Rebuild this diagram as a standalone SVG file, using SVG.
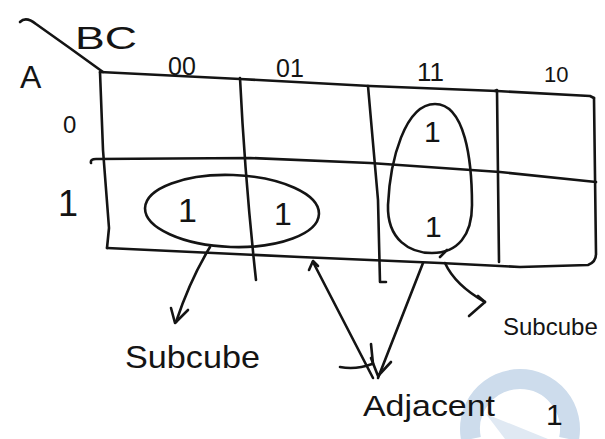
<svg xmlns="http://www.w3.org/2000/svg" width="605" height="439" viewBox="0 0 605 439">
<style>
.ln{fill:none;stroke:#141414;stroke-width:2.6;stroke-linecap:round;stroke-linejoin:round}
.hw{font-family:"Liberation Sans","DejaVu Sans",sans-serif;fill:#141414}
.wm{fill:none;stroke:#cddcec;stroke-width:20}
</style>
<rect width="605" height="439" fill="#ffffff"/>
<g id="watermark">
<path class="wm" d="M471,439 A50,50 0 1 1 569,439"/>
<path d="M486,414 L548,439 L505,439 Z" fill="#e0e9f3"/>
</g>
<g id="kmap-grid">
<path class="ln" d="M20,22 Q26,16 36,24 Q70,48 103,72"/>
<path class="ln" d="M100,72 L240,79 L370,86 L497,91 L590,96 L594,98"/>
<path class="ln" d="M100,72 L103,150 L109,228 L107,248"/>
<path class="ln" d="M107,248 L300,257 L440,263 L520,267 L588,265 Q596,262 596,254 L594,98"/>
<path class="ln" d="M91,163 Q90,159 96,159 L250,158 L370,163 L500,172 L596,182"/>
<path class="ln" d="M240,78 Q245,180 256,280"/>
<path class="ln" d="M368,86 L378,200 L380,282 L386,282"/>
<path class="ln" d="M495,91 L497,90 L499,262"/>
</g>
<g id="labels">
<text class="hw" x="75" y="49" font-size="32" textLength="62" lengthAdjust="spacingAndGlyphs">BC</text>
<text class="hw" x="20" y="88" font-size="32">A</text>
<text class="hw" x="168" y="75" font-size="25">00</text>
<text class="hw" x="276" y="77" font-size="25">01</text>
<text class="hw" x="417" y="81" font-size="26">11</text>
<text class="hw" x="544" y="82" font-size="22">10</text>
<text class="hw" x="63" y="133" font-size="24">0</text>
<text class="hw" x="58" y="216" font-size="36">1</text>
</g>
<g id="cells">
<text class="hw" x="178" y="222" font-size="34">1</text>
<text class="hw" x="274" y="225" font-size="32">1</text>
<text class="hw" x="424" y="142" font-size="30">1</text>
<text class="hw" x="425" y="237" font-size="30">1</text>
</g>
<g id="group-row">
<ellipse class="ln" cx="232" cy="211" rx="87" ry="36" transform="rotate(2 232 211)"/>
</g>
<g id="group-col">
<path class="ln" d="M435,104 C405,104 390,160 388,205 C387,240 410,253 432,253 C458,253 472,235 472,205 C472,160 465,104 435,104 Z"/>
<path class="ln" d="M440,257 L447,250"/>
</g>
<g id="connectors">
<path class="ln" d="M210,247 Q190,280 176,322"/>
<path class="ln" d="M171,308 L175,323 L188,310"/>
<path class="ln" d="M313,262 L373,378"/>
<path class="ln" d="M309,270 L313,261 L318,266"/>
<path class="ln" d="M340,367 Q356,370 372,364"/>
<path class="ln" d="M371,344 L373,364"/>
<path class="ln" d="M423,263 L378,378"/>
<path class="ln" d="M371,358 L378,376 L391,362"/>
<path class="ln" d="M445,263 Q455,285 485,302"/>
<path class="ln" d="M478,296 L485,302 L469,316"/>
</g>
<g id="annotations">
<text class="hw" x="125" y="368" font-size="32" textLength="135" lengthAdjust="spacingAndGlyphs">Subcube</text>
<text class="hw" x="503" y="335" font-size="24">Subcube</text>
<text class="hw" x="363" y="416" font-size="30" textLength="132" lengthAdjust="spacingAndGlyphs">Adjacent</text>
<text class="hw" x="546" y="425" font-size="30">1</text>
</g>
</svg>
